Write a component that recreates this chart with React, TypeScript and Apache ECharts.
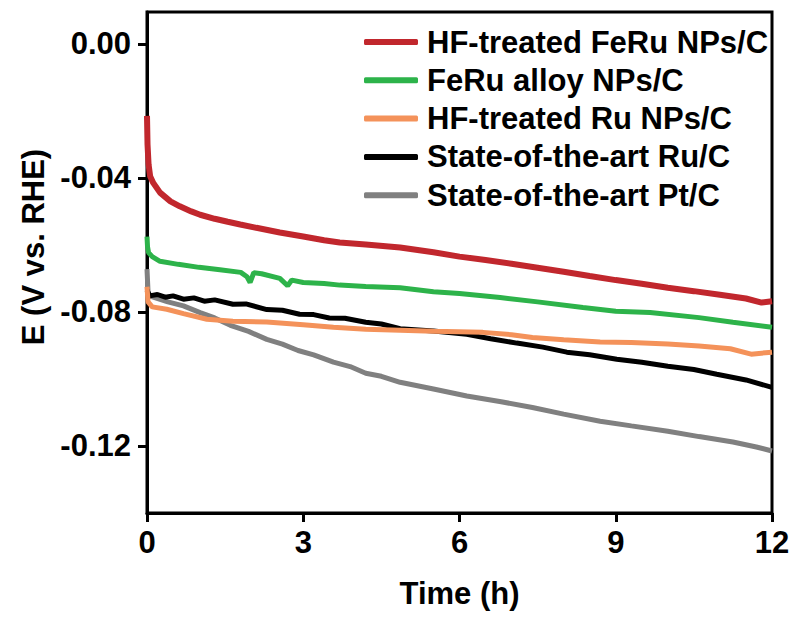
import React, { useEffect, useRef } from "react";
import * as echarts from "echarts";

const seriesNames = [
  "HF-treated FeRu NPs/C",
  "FeRu alloy NPs/C",
  "HF-treated Ru NPs/C",
  "State-of-the-art Ru/C",
  "State-of-the-art Pt/C",
];
const seriesColors = ["#c1272d", "#2db34a", "#f4925a", "#000000", "#808080"];
const seriesWidths = [6, 5, 5, 5, 5];

const xTicks = [0, 3, 6, 9, 12];
const yTicks = [0, -0.04, -0.08, -0.12];

const redData = [
  [0, -0.0215], [0.01, -0.03], [0.03, -0.036], [0.06, -0.0395], [0.12, -0.0415],
  [0.25, -0.0444], [0.45, -0.047], [0.63, -0.0485], [0.85, -0.05], [1.02, -0.051],
  [1.3, -0.0522], [1.55, -0.0531], [1.79, -0.0539], [2.1, -0.0549], [2.55, -0.0563],
  [3.0, -0.0575], [3.4, -0.0586], [3.7, -0.0593], [4.2, -0.0599], [4.86, -0.0608],
  [5.5, -0.0622], [6.0, -0.0635], [6.5, -0.0645], [7.0, -0.0656], [7.5, -0.0668],
  [8.0, -0.068], [8.5, -0.0693], [9.0, -0.0705], [9.5, -0.0716], [10.0, -0.0728],
  [10.5, -0.0738], [11.0, -0.0749], [11.5, -0.076], [11.8, -0.0772], [12, -0.0768],
];
const greenData = [
  [0, -0.0575], [0.01, -0.0605], [0.03, -0.0623], [0.1, -0.0635], [0.25, -0.0649],
  [0.6, -0.0658], [1.0, -0.0667], [1.4, -0.0674], [1.8, -0.0682], [1.92, -0.0695],
  [1.98, -0.0712], [2.05, -0.0683], [2.2, -0.0686], [2.55, -0.07], [2.7, -0.0722],
  [2.78, -0.0705], [3.0, -0.0712], [3.4, -0.0715], [3.7, -0.072], [4.2, -0.0724],
  [4.86, -0.0728], [5.5, -0.074], [6.0, -0.0745], [6.78, -0.0757], [7.5, -0.077],
  [8.37, -0.0787], [9.0, -0.0798], [9.66, -0.0802], [10.6, -0.0817], [11.25, -0.0831],
  [12, -0.0846],
];
const orangeData = [
  [0, -0.0725], [0.02, -0.077], [0.1, -0.0785], [0.38, -0.0792], [0.7, -0.0805],
  [1.15, -0.0822], [1.65, -0.0828], [2.3, -0.083], [3.0, -0.0838], [3.58, -0.0846],
  [4.2, -0.0852], [4.86, -0.0855], [5.5, -0.0858], [6.45, -0.0861], [7.0, -0.0868],
  [7.4, -0.0876], [8.0, -0.0883], [8.7, -0.089], [9.3, -0.0891], [10.0, -0.0896],
  [10.6, -0.0902], [11.2, -0.091], [11.6, -0.0926], [12, -0.092],
];
const blackData = [
  [0, -0.0735], [0.05, -0.0752], [0.2, -0.0748], [0.35, -0.0756], [0.5, -0.0752],
  [0.7, -0.0762], [0.9, -0.0758], [1.1, -0.0768], [1.3, -0.0764], [1.65, -0.0777],
  [1.9, -0.0776], [2.3, -0.0793], [2.6, -0.0795], [2.93, -0.0807], [3.2, -0.0808],
  [3.5, -0.0818], [3.8, -0.0819], [4.2, -0.0831], [4.5, -0.0836], [4.86, -0.085],
  [5.5, -0.0857], [6.14, -0.0867], [6.6, -0.088], [7.1, -0.0893], [7.6, -0.0905],
  [8.06, -0.092], [8.5, -0.0928], [9.02, -0.0941], [9.5, -0.095], [10.0, -0.0962],
  [10.5, -0.0972], [10.94, -0.0986], [11.5, -0.1003], [12, -0.1025],
];
const grayData = [
  [0, -0.0672], [0.02, -0.074], [0.06, -0.0753], [0.4, -0.077], [0.7, -0.0782],
  [1.02, -0.0802], [1.3, -0.0818], [1.6, -0.084], [1.95, -0.0858], [2.3, -0.0882],
  [2.6, -0.0896], [2.9, -0.0915], [3.2, -0.0928], [3.58, -0.095], [3.9, -0.0963],
  [4.2, -0.0983], [4.5, -0.0992], [4.86, -0.101], [5.5, -0.103], [6.14, -0.1051],
  [6.8, -0.1068], [7.4, -0.1085], [8.0, -0.1105], [8.7, -0.1126], [9.3, -0.114],
  [10.0, -0.1156], [10.6, -0.1172], [11.25, -0.1188], [11.7, -0.1203], [12, -0.1215],
];
const allData = [redData, greenData, orangeData, blackData, grayData];

const FONT = '"Liberation Sans", Arial, sans-serif';

export default function App() {
  const ref = useRef<HTMLDivElement>(null);
  useEffect(() => {
    if (!ref.current) return;
    const chart = echarts.init(ref.current, null, { renderer: "svg" });
    chart.setOption({
      animation: false,
      backgroundColor: "#ffffff",
      grid: {
        left: 147,
        right: 23,
        top: 12,
        bottom: 106,
        show: true,
        borderColor: "#000",
        borderWidth: 3,
        backgroundColor: "transparent",
      },
      legend: {
        orient: "vertical",
        left: 364,
        top: 23,
        padding: 0,
        icon: "roundRect",
        itemWidth: 54,
        itemHeight: 6,
        itemGap: 0.3,
        data: seriesNames,
        textStyle: {
          fontFamily: FONT,
          fontWeight: "bold",
          fontSize: 31,
          color: "#000",
          lineHeight: 38,
          padding: [0, 0, 0, 4],
        },
      },
      xAxis: {
        type: "value",
        min: 0,
        max: 12,
        interval: 3,
        axisLine: { show: true, onZero: false, lineStyle: { color: "#000", width: 3 } },
        axisTick: { show: true, length: 9, lineStyle: { color: "#000", width: 3 } },
        splitLine: { show: false },
        axisLabel: {
          margin: 14,
          fontFamily: FONT,
          fontWeight: "bold",
          fontSize: 31,
          color: "#000",
          customValues: xTicks,
        },
      },
      yAxis: {
        type: "value",
        min: -0.14,
        max: 0.0095,
        axisLine: { show: true, onZero: false, lineStyle: { color: "#000", width: 3 } },
        axisTick: {
          show: true,
          length: 9,
          lineStyle: { color: "#000", width: 3 },
          customValues: yTicks,
        },
        splitLine: { show: false },
        axisLabel: {
          margin: 16,
          fontFamily: FONT,
          fontWeight: "bold",
          fontSize: 31,
          color: "#000",
          customValues: yTicks,
          formatter: (v: number) => v.toFixed(2),
        },
      },
      graphic: [
        {
          type: "text",
          x: 459.5,
          y: 593,
          style: {
            text: "Time (h)",
            fontFamily: FONT,
            fontWeight: "bold",
            fontSize: 31,
            fill: "#000",
            align: "center",
            verticalAlign: "middle",
          },
        },
        {
          type: "text",
          x: 33,
          y: 247,
          rotation: Math.PI / 2,
          style: {
            text: "E (V vs. RHE)",
            fontFamily: FONT,
            fontWeight: "bold",
            fontSize: 31,
            fill: "#000",
            align: "center",
            verticalAlign: "middle",
          },
        },
      ],
      series: seriesNames.map((name, i) => ({
        name,
        type: "line",
        data: allData[i],
        showSymbol: false,
        symbol: "none",
        smooth: false,
        z: 10 - i,
        itemStyle: { color: seriesColors[i] },
        lineStyle: { color: seriesColors[i], width: seriesWidths[i] },
      })),
    });
    return () => chart.dispose();
  }, []);
  return (
    <div
      ref={ref}
      style={{ position: "absolute", left: 0, top: 0, width: 795, height: 619 }}
    />
  );
}
